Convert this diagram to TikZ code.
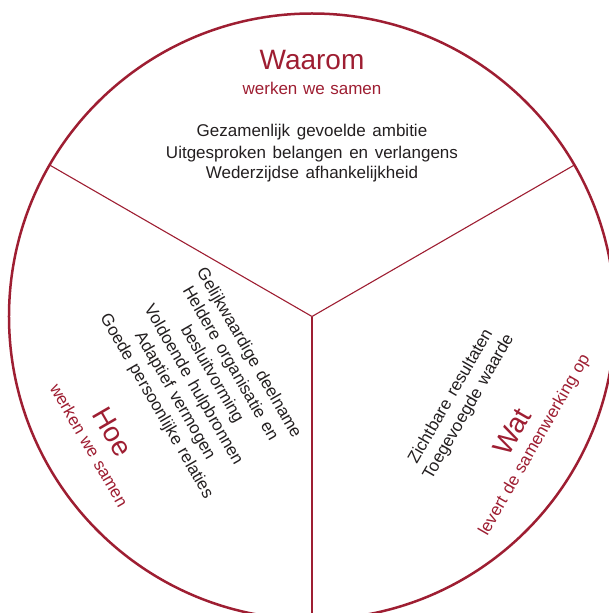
\documentclass[tikz,border=0pt]{standalone}
\usepackage{fontspec}
\setmainfont{Liberation Sans}
\definecolor{wine}{RGB}{158,30,50}
\definecolor{ink}{RGB}{35,31,32}
\newcommand\bodywide{\spaceskip=6.6pt\relax}
\newcommand\subwide{\spaceskip=5.6pt\relax}
\begin{document}
\begin{tikzpicture}[x=1pt,y=1pt,
  body/.style={font=\fontsize{17}{20}\selectfont, execute at begin node=\bodywide, text=ink, anchor=base, inner sep=0pt},
  title/.style={font=\fontsize{28}{32}\selectfont, text=wine, anchor=base, inner sep=0pt},
  sub/.style={font=\fontsize{17}{20}\selectfont, execute at begin node=\subwide, text=wine, anchor=base, inner sep=0pt},
  rim/.style={draw=wine, line width=2.5pt},
  divider/.style={draw=wine, line width=1.1pt}]
\useasboundingbox (-312,-296.5) rectangle (297,316.5);
\clip (-312,-296.5) rectangle (297,316.5);
\coordinate (c) at (0,0);
\coordinate (e1) at (150:303);
\coordinate (e2) at (30:303);
\coordinate (e3) at (270:303);
\draw[divider] (c) -- (e1);
\draw[divider] (c) -- (e2);
\draw[divider] (c) -- (e3);
\draw[rim] (c) circle[radius=303];
% Waarom
\node[title] (waarom) at (0,246.5) {Waarom};
\node[sub] (waaromsub) at (0,222.2) {werken we samen};
\node[body] (w1) at (0,179.8) {Gezamenlijk gevoelde ambitie};
\node[body] (w2) at (0,158.2) {Uitgesproken belangen en verlangens};
\node[body] (w3) at (0,138.2) {Wederzijdse afhankelijkheid};
% Hoe
\node[body, rotate=-60] (h1) at (210:77.8) {Gelijkwaardige deelname};
\node[body, rotate=-60] (h2) at (210:99.1) {Heldere organisatie en};
\node[body, rotate=-60] (h3) at (210:120.4) {besluitvorming};
\node[body, rotate=-60] (h4) at (210:141.7) {Voldoende hulpbronnen};
\node[body, rotate=-60] (h5) at (210:163.0) {Adaptief vermogen};
\node[body, rotate=-60] (h6) at (210:184.3) {Goede persoonlijke relaties};
\node[title, rotate=-60] (hoe) at (210:239.7) {Hoe};
\node[sub, rotate=-60] (hoesub) at (210:263.3) {werken we samen};
% Wat
\node[body, rotate=60] (t1) at (330:165) {Zichtbare resultaten};
\node[body, rotate=60] (t2) at (330:185.7) {Toegevoegde waarde};
\node[title, rotate=60] (wat) at (330:240.6) {Wat};
\node[sub, rotate=60] (watsub) at (330:261.8) {levert de samenwerking op};
\end{tikzpicture}
\end{document}
